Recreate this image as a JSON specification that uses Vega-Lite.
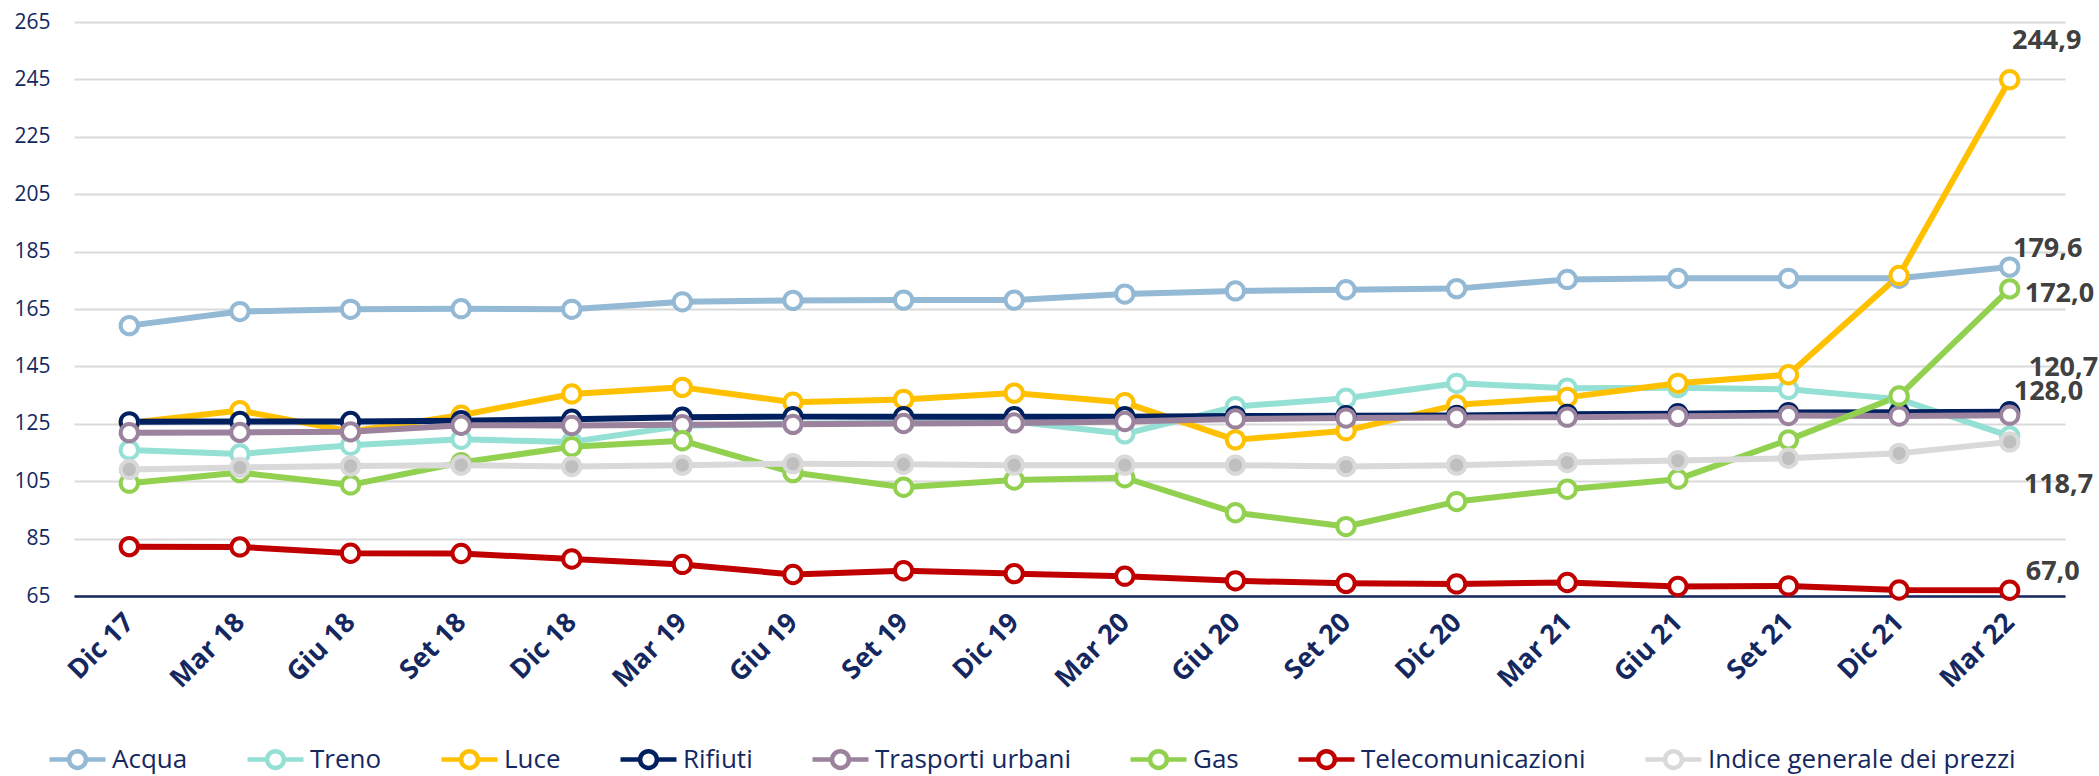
{
  "$schema": "https://vega.github.io/schema/vega-lite/v6.json",
  "width": 1991,
  "height": 574,
  "autosize": "none",
  "padding": {"left": 74, "top": 22, "right": 34, "bottom": 180},
  "background": "white",
  "config": {
    "locale": {"number": {"decimal": ",", "thousands": ".", "grouping": [3], "currency": ["€", ""]}},
    "view": {"stroke": null},
    "font": "Open Sans"
  },
  "data": {"values": [
    {"date": "Dic 17", "Acqua": 159.2, "Treno": 115.9, "Luce": 125.3, "Rifiuti": 125.7, "Trasporti urbani": 121.9, "Gas": 104.3, "Telecomunicazioni": 82.2, "Indice generale dei prezzi": 109.1},
    {"date": "Mar 18", "Acqua": 164.1, "Treno": 114.5, "Luce": 129.6, "Rifiuti": 125.8, "Trasporti urbani": 122.0, "Gas": 108.0, "Telecomunicazioni": 82.1, "Indice generale dei prezzi": 109.8},
    {"date": "Giu 18", "Acqua": 164.9, "Treno": 117.5, "Luce": 122.3, "Rifiuti": 125.8, "Trasporti urbani": 122.2, "Gas": 103.7, "Telecomunicazioni": 79.9, "Indice generale dei prezzi": 110.3},
    {"date": "Set 18", "Acqua": 165.1, "Treno": 119.6, "Luce": 128.0, "Rifiuti": 126.1, "Trasporti urbani": 124.5, "Gas": 111.5, "Telecomunicazioni": 79.8, "Indice generale dei prezzi": 110.6},
    {"date": "Dic 18", "Acqua": 164.9, "Treno": 118.7, "Luce": 135.4, "Rifiuti": 126.6, "Trasporti urbani": 124.4, "Gas": 117.0, "Telecomunicazioni": 77.9, "Indice generale dei prezzi": 110.1},
    {"date": "Mar 19", "Acqua": 167.5, "Treno": 124.3, "Luce": 137.7, "Rifiuti": 127.3, "Trasporti urbani": 124.7, "Gas": 119.1, "Telecomunicazioni": 76.0, "Indice generale dei prezzi": 110.6},
    {"date": "Giu 19", "Acqua": 168.0, "Treno": 125.0, "Luce": 132.5, "Rifiuti": 127.5, "Trasporti urbani": 124.8, "Gas": 108.0, "Telecomunicazioni": 72.5, "Indice generale dei prezzi": 111.1},
    {"date": "Set 19", "Acqua": 168.1, "Treno": 125.3, "Luce": 133.5, "Rifiuti": 127.5, "Trasporti urbani": 125.1, "Gas": 102.9, "Telecomunicazioni": 73.8, "Indice generale dei prezzi": 110.9},
    {"date": "Dic 19", "Acqua": 168.1, "Treno": 125.8, "Luce": 135.7, "Rifiuti": 127.5, "Trasporti urbani": 125.3, "Gas": 105.4, "Telecomunicazioni": 72.8, "Indice generale dei prezzi": 110.6},
    {"date": "Mar 20", "Acqua": 170.2, "Treno": 121.5, "Luce": 132.4, "Rifiuti": 127.5, "Trasporti urbani": 125.8, "Gas": 106.2, "Telecomunicazioni": 71.9, "Indice generale dei prezzi": 110.6},
    {"date": "Giu 20", "Acqua": 171.3, "Treno": 131.0, "Luce": 119.4, "Rifiuti": 127.7, "Trasporti urbani": 126.7, "Gas": 94.0, "Telecomunicazioni": 70.3, "Indice generale dei prezzi": 110.6},
    {"date": "Set 20", "Acqua": 171.7, "Treno": 133.9, "Luce": 122.6, "Rifiuti": 127.8, "Trasporti urbani": 127.0, "Gas": 89.2, "Telecomunicazioni": 69.4, "Indice generale dei prezzi": 110.1},
    {"date": "Dic 20", "Acqua": 172.1, "Treno": 139.1, "Luce": 131.6, "Rifiuti": 127.9, "Trasporti urbani": 127.2, "Gas": 97.9, "Telecomunicazioni": 69.2, "Indice generale dei prezzi": 110.6},
    {"date": "Mar 21", "Acqua": 175.3, "Treno": 137.4, "Luce": 134.2, "Rifiuti": 128.3, "Trasporti urbani": 127.3, "Gas": 102.2, "Telecomunicazioni": 69.7, "Indice generale dei prezzi": 111.5},
    {"date": "Giu 21", "Acqua": 175.7, "Treno": 137.6, "Luce": 139.1, "Rifiuti": 128.5, "Trasporti urbani": 127.6, "Gas": 105.7, "Telecomunicazioni": 68.3, "Indice generale dei prezzi": 112.2},
    {"date": "Set 21", "Acqua": 175.7, "Treno": 137.0, "Luce": 142.1, "Rifiuti": 128.9, "Trasporti urbani": 127.9, "Gas": 119.4, "Telecomunicazioni": 68.5, "Indice generale dei prezzi": 113.0},
    {"date": "Dic 21", "Acqua": 175.7, "Treno": 133.6, "Luce": 176.7, "Rifiuti": 129.0, "Trasporti urbani": 127.7, "Gas": 134.7, "Telecomunicazioni": 67.1, "Indice generale dei prezzi": 114.7},
    {"date": "Mar 22", "Acqua": 179.6, "Treno": 120.7, "Luce": 244.9, "Rifiuti": 129.2, "Trasporti urbani": 128.0, "Gas": 172.0, "Telecomunicazioni": 67.0, "Indice generale dei prezzi": 118.7}
  ]},
  "transform": [
    {"fold": ["Acqua", "Treno", "Luce", "Rifiuti", "Trasporti urbani", "Gas", "Telecomunicazioni", "Indice generale dei prezzi"], "as": ["series", "value"]}
  ],
  "encoding": {
    "x": {
      "field": "date", "type": "ordinal",
      "sort": ["Dic 17", "Mar 18", "Giu 18", "Set 18", "Dic 18", "Mar 19", "Giu 19", "Set 19", "Dic 19", "Mar 20", "Giu 20", "Set 20", "Dic 20", "Mar 21", "Giu 21", "Set 21", "Dic 21", "Mar 22"],
      "scale": {"type": "point", "padding": 0.5},
      "axis": {
        "title": null, "labelAngle": -45, "labelAlign": "right", "labelBaseline": "middle",
        "labelFont": "Open Sans", "labelFontWeight": "bold", "labelFontSize": 27, "labelColor": "#14285f",
        "ticks": false, "labelPadding": 22, "domainColor": "#14285f", "domainWidth": 2.5, "grid": false
      }
    },
    "y": {
      "field": "value", "type": "quantitative",
      "scale": {"domain": [65, 265], "nice": false, "zero": false},
      "axis": {
        "title": null, "values": [65, 85, 105, 125, 145, 165, 185, 205, 225, 245, 265],
        "labelFont": "Open Sans", "labelFontSize": 21, "labelColor": "#14285f",
        "ticks": false, "domain": false, "gridColor": "#d9d9d9", "gridWidth": 2, "labelPadding": 24
      }
    }
  },
  "layer": [
    {
      "mark": {"type": "line", "strokeJoin": "round", "strokeCap": "round", "strokeWidth": 6},
      "encoding": {
        "color": {
          "field": "series", "type": "nominal",
          "scale": {
            "domain": ["Acqua", "Treno", "Luce", "Rifiuti", "Trasporti urbani", "Gas", "Telecomunicazioni", "Indice generale dei prezzi"],
            "range": ["#93b9d4", "#95e0d4", "#ffc000", "#002060", "#9b829d", "#92d050", "#c00000", "#d9d9d9"]
          },
          "legend": {
            "title": null, "orient": "none", "direction": "horizontal", "columns": 8,
            "legendX": -27, "legendY": 707,
            "symbolType": "M-1,0H-0.3M0.3,0H1M0.3,0A0.3,0.3,0,1,1,-0.3,0A0.3,0.3,0,1,1,0.3,0Z",
            "symbolSize": 3136, "symbolStrokeWidth": 4.5, "symbolFillColor": "white", "symbolOpacity": 1,
            "labelFont": "Open Sans", "labelFontSize": 26, "labelColor": "#14285f",
            "labelOffset": 4, "columnPadding": 50, "labelLimit": 600
          }
        }
      }
    },
    {
      "mark": {"type": "point", "filled": false, "size": 300, "strokeWidth": 4, "opacity": 1},
      "encoding": {
        "stroke": {
          "field": "series", "type": "nominal",
          "scale": {
            "domain": ["Acqua", "Treno", "Luce", "Rifiuti", "Trasporti urbani", "Gas", "Telecomunicazioni", "Indice generale dei prezzi"],
            "range": ["#93b9d4", "#95e0d4", "#ffc000", "#002060", "#9b829d", "#92d050", "#c00000", "#d9d9d9"]
          },
          "legend": null
        },
        "fill": {"condition": {"test": "datum.series === 'Indice generale dei prezzi'", "value": "#bfbfbf"}, "value": "white"},
        "fillOpacity": {"value": 1}
      }
    },
    {
      "encoding": {
        "text": {"field": "value", "type": "quantitative", "format": ".1f"}
      },
      "layer": [
        {"transform": [{"filter": "datum.date === 'Mar 22' && datum.series === 'Luce'"}],
         "mark": {"type": "text", "align": "center", "baseline": "middle", "dx": 37, "dy": -39, "font": "Open Sans", "fontWeight": "bold", "fontSize": 27, "color": "#404040"}},
        {"transform": [{"filter": "datum.date === 'Mar 22' && datum.series === 'Acqua'"}],
         "mark": {"type": "text", "align": "center", "baseline": "middle", "dx": 38, "dy": -18, "font": "Open Sans", "fontWeight": "bold", "fontSize": 27, "color": "#404040"}},
        {"transform": [{"filter": "datum.date === 'Mar 22' && datum.series === 'Gas'"}],
         "mark": {"type": "text", "align": "left", "baseline": "middle", "dx": 15, "dy": 5, "font": "Open Sans", "fontWeight": "bold", "fontSize": 27, "color": "#404040"}},
        {"transform": [{"filter": "datum.date === 'Mar 22' && datum.series === 'Treno'"}],
         "mark": {"type": "text", "align": "left", "baseline": "middle", "dx": 19, "dy": -68, "font": "Open Sans", "fontWeight": "bold", "fontSize": 27, "color": "#404040"}},
        {"transform": [{"filter": "datum.date === 'Mar 22' && datum.series === 'Trasporti urbani'"}],
         "mark": {"type": "text", "align": "left", "baseline": "middle", "dx": 4, "dy": -23, "font": "Open Sans", "fontWeight": "bold", "fontSize": 27, "color": "#404040"}},
        {"transform": [{"filter": "datum.date === 'Mar 22' && datum.series === 'Indice generale dei prezzi'"}],
         "mark": {"type": "text", "align": "left", "baseline": "middle", "dx": 14, "dy": 43, "font": "Open Sans", "fontWeight": "bold", "fontSize": 27, "color": "#404040"}},
        {"transform": [{"filter": "datum.date === 'Mar 22' && datum.series === 'Telecomunicazioni'"}],
         "mark": {"type": "text", "align": "left", "baseline": "middle", "dx": 16, "dy": -18, "font": "Open Sans", "fontWeight": "bold", "fontSize": 27, "color": "#404040"}}
      ]
    }
  ]
}
